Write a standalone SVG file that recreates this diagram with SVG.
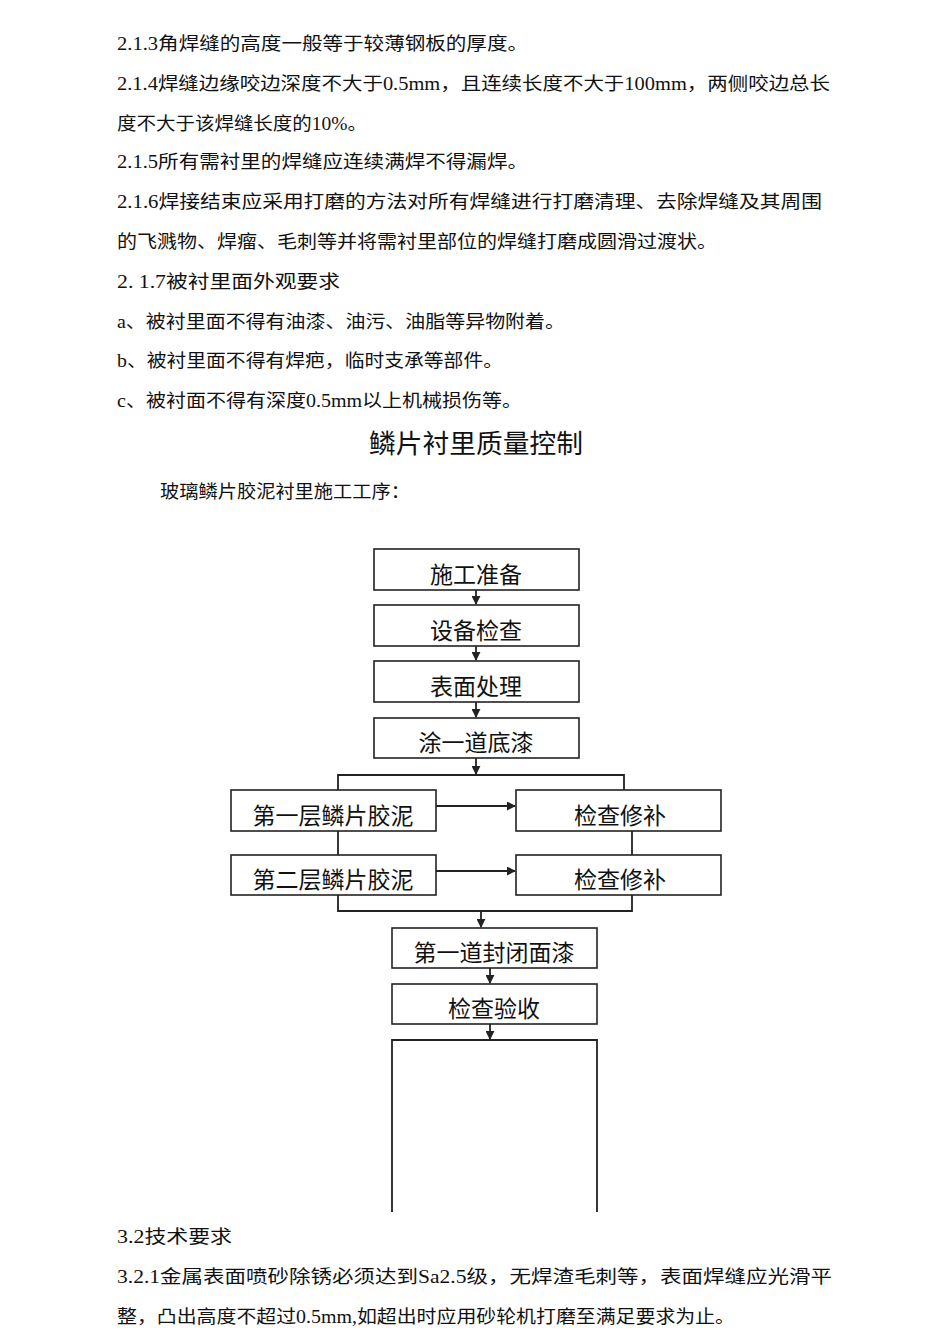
<svg xmlns="http://www.w3.org/2000/svg" width="950" height="1344" viewBox="0 0 950 1344">
<style>
text{font-family:"Liberation Serif","Noto Sans CJK SC",serif;fill:#111}
.p{font-size:18px}
.n rect{fill:#fff;stroke:#222;stroke-width:1.6}
.n text{font-size:23px;text-anchor:middle}
.c line,.c polyline{stroke:#222;stroke-width:1.8;fill:none}
</style>
<defs><marker id="a" viewBox="0 0 10 10" refX="9" refY="5" markerWidth="5" markerHeight="5" orient="auto"><path d="M0,0L10,5L0,10z" fill="#222"/></marker></defs>
<rect width="950" height="1344" fill="#fff"/>
<text class="p" x="117" y="50" textLength="411" lengthAdjust="spacingAndGlyphs">2.1.3角焊缝的高度一般等于较薄钢板的厚度。</text>
<text class="p" x="117" y="90" textLength="713" lengthAdjust="spacingAndGlyphs">2.1.4焊缝边缘咬边深度不大于0.5mm，且连续长度不大于100mm，两侧咬边总长</text>
<text class="p" x="117" y="130" textLength="250" lengthAdjust="spacingAndGlyphs">度不大于该焊缝长度的10%。</text>
<text class="p" x="117" y="168" textLength="411" lengthAdjust="spacingAndGlyphs">2.1.5所有需衬里的焊缝应连续满焊不得漏焊。</text>
<text class="p" x="117" y="208" textLength="705" lengthAdjust="spacingAndGlyphs">2.1.6焊接结束应采用打磨的方法对所有焊缝进行打磨清理、去除焊缝及其周围</text>
<text class="p" x="117" y="248" textLength="600" lengthAdjust="spacingAndGlyphs">的飞溅物、焊瘤、毛刺等并将需衬里部位的焊缝打磨成圆滑过渡状。</text>
<text class="p" x="117" y="288" textLength="223" lengthAdjust="spacingAndGlyphs">2. 1.7被衬里面外观要求</text>
<text class="p" x="117" y="328" textLength="448" lengthAdjust="spacingAndGlyphs">a、被衬里面不得有油漆、油污、油脂等异物附着。</text>
<text class="p" x="117" y="367" textLength="386" lengthAdjust="spacingAndGlyphs">b、被衬里面不得有焊疤，临时支承等部件。</text>
<text class="p" x="117" y="407" textLength="405" lengthAdjust="spacingAndGlyphs">c、被衬面不得有深度0.5mm以上机械损伤等。</text>
<text x="369" y="453" font-size="26" textLength="214" lengthAdjust="spacingAndGlyphs">鳞片衬里质量控制</text>
<text class="p" x="160" y="498" textLength="250" lengthAdjust="spacingAndGlyphs">玻璃鳞片胶泥衬里施工工序：</text>
<g class="c">
<line x1="476" y1="590" x2="476" y2="604" marker-end="url(#a)"/>
<line x1="476" y1="646" x2="476" y2="660" marker-end="url(#a)"/>
<line x1="476" y1="702" x2="476" y2="717" marker-end="url(#a)"/>
<line x1="476" y1="758" x2="476" y2="774" marker-end="url(#a)"/>
<polyline points="338,790 338,775 624,775 624,790"/>
<line x1="436" y1="806" x2="515" y2="806" marker-end="url(#a)"/>
<line x1="436" y1="871" x2="515" y2="871" marker-end="url(#a)"/>
<line x1="338" y1="831" x2="338" y2="855"/>
<line x1="632" y1="831" x2="632" y2="855" stroke-width="1.2"/>
<polyline points="338,895 338,911 632,911 632,895"/>
<line x1="481" y1="911" x2="481" y2="927" marker-end="url(#a)"/>
<line x1="490" y1="968" x2="490" y2="983" marker-end="url(#a)"/>
<line x1="490" y1="1024" x2="490" y2="1039" marker-end="url(#a)"/>
<polyline points="392,1212 392,1040 597,1040 597,1212"/>
</g>
<g id="n1" class="n"><rect x="374" y="549" width="205" height="41"/><text x="476" y="583">施工准备</text></g>
<g id="n2" class="n"><rect x="374" y="605" width="205" height="41"/><text x="476" y="639">设备检查</text></g>
<g id="n3" class="n"><rect x="374" y="661" width="205" height="41"/><text x="476" y="695">表面处理</text></g>
<g id="n4" class="n"><rect x="374" y="718" width="205" height="40"/><text x="476" y="751">涂一道底漆</text></g>
<g id="n5" class="n"><rect x="231" y="790" width="205" height="41"/><text x="333" y="824">第一层鳞片胶泥</text></g>
<g id="n6" class="n"><rect x="516" y="790" width="205" height="41"/><text x="620" y="824">检查修补</text></g>
<g id="n7" class="n"><rect x="231" y="855" width="205" height="40"/><text x="333" y="888">第二层鳞片胶泥</text></g>
<g id="n8" class="n"><rect x="516" y="855" width="205" height="40"/><text x="620" y="888">检查修补</text></g>
<g id="n9" class="n"><rect x="392" y="928" width="205" height="40"/><text x="494" y="961">第一道封闭面漆</text></g>
<g id="n10" class="n"><rect x="392" y="984" width="205" height="40"/><text x="494" y="1017">检查验收</text></g>
<text class="p" x="117" y="1243" textLength="115" lengthAdjust="spacingAndGlyphs">3.2技术要求</text>
<text class="p" x="117" y="1283" textLength="715" lengthAdjust="spacingAndGlyphs">3.2.1金属表面喷砂除锈必须达到Sa2.5级，无焊渣毛刺等，表面焊缝应光滑平</text>
<text class="p" x="117" y="1323" textLength="618" lengthAdjust="spacingAndGlyphs">整，凸出高度不超过0.5mm,如超出时应用砂轮机打磨至满足要求为止。</text>
</svg>
